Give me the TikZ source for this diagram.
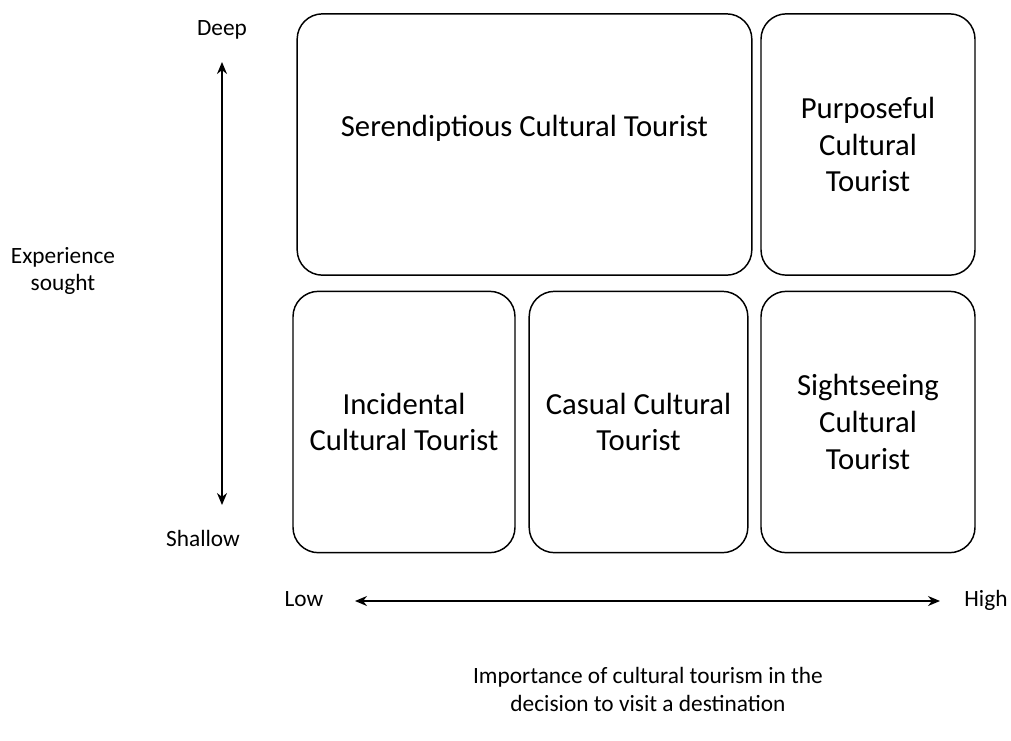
\documentclass[tikz,border=0pt]{standalone}
\usepackage{fontspec}
\setmainfont{Carlito}
\usepackage{tikz}
\usetikzlibrary{arrows.meta}

\begin{document}
\begin{tikzpicture}[x=0.75pt, y=-0.75pt,
  typ/.style={draw, line width=1.1pt, rounded corners=19pt, align=center,
              inner sep=0pt, minimum height=196pt,
              font=\fontsize{23}{27.6}\selectfont},
  ax/.style={font=\fontsize{17.5}{20.5}\selectfont, align=center},
  axl/.style={ax, text height=12pt, text depth=3.5pt},
  >={Stealth[length=9pt, width=7.5pt]}]
\useasboundingbox (0,0) rectangle (1011,740);
% tourist types
\node[typ, minimum width=341pt] (ser) at (524.5,144.5) {};
\node[font=\fontsize{23}{27.6}\selectfont] (sert) at (524.5,128) {Serendiptious Cultural Tourist};
\node[typ, minimum width=160.5pt] (pur) at (868,144.5) {Purposeful\\Cultural\\Tourist};
\node[typ, minimum width=166.5pt] (inc) at (404,422) {Incidental\\Cultural Tourist};
\node[typ, minimum width=164pt] (cas) at (638.5,422) {Casual Cultural\\Tourist};
\node[typ, minimum width=160.5pt] (sig) at (868,422) {Sightseeing\\Cultural\\Tourist};
% axes
\node[axl] (deep) at (222,30) {Deep};
\node[axl] (shal) at (203,541) {Shallow};
\node[ax] (exp) at (63,271) {Experience\\sought};
\coordinate (vtop) at (222,62);
\coordinate (vbot) at (222,505);
\draw[<->, line width=1pt] (vtop)--(vbot);
\node[axl] (low) at (304,601) {Low};
\node[axl] (high) at (986,601) {High};
\coordinate (hl) at (355,601);
\coordinate (hr) at (940,601);
\draw[<->, line width=1pt] (hl)--(hr);
\node[ax] (imp) at (648,689.5) {Importance of cultural tourism in the\\decision to visit a destination};
\end{tikzpicture}
\end{document}
